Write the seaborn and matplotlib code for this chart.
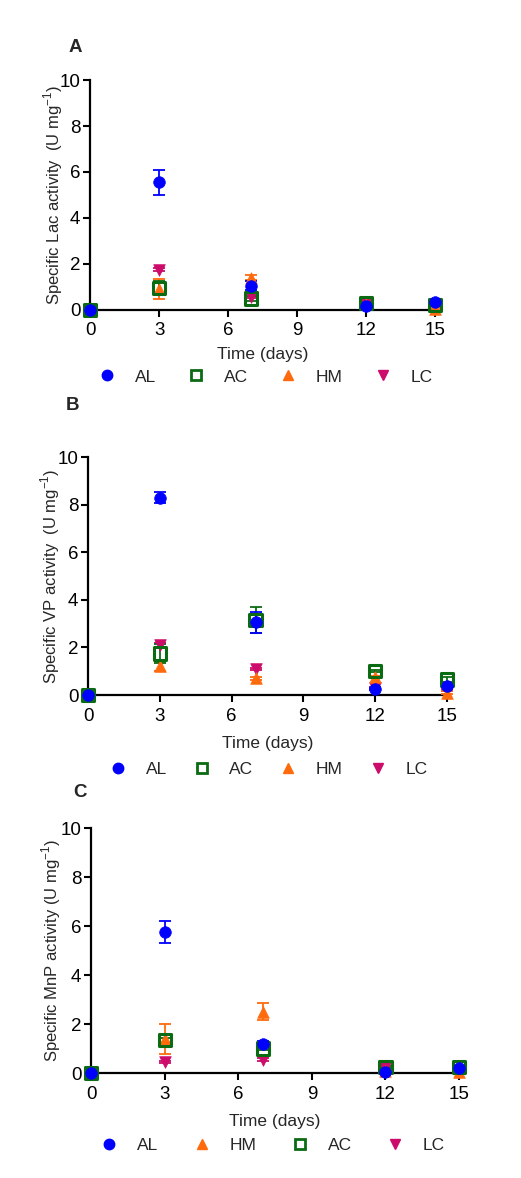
import matplotlib
matplotlib.use("Agg")
import matplotlib.pyplot as plt
import seaborn as sns
import pandas as pd
import numpy as np
from matplotlib.lines import Line2D

days = [0, 3, 7, 12, 15]

# Panel A - laccase
lac_al = [0.0, 5.55, 1.05, 0.15, 0.35]
lac_al_err = [0.0, 0.55, 0.2, 0.05, 0.05]
lac_ac = [0.0, 0.95, 0.5, 0.3, 0.2]
lac_ac_err = [0.0, 0.3, 0.1, 0.05, 0.05]
lac_hm = [0.0, 0.9, 1.4, 0.25, 0.05]
lac_hm_err = [0.0, 0.42, 0.1, 0.05, 0.05]
lac_lc = [0.0, 1.75, 0.55, 0.3, 0.2]
lac_lc_err = [0.0, 0.05, 0.05, 0.05, 0.05]

# Panel B - versatile peroxidase
vp_al = [0.0, 8.3, 3.05, 0.25, 0.4]
vp_al_err = [0.0, 0.25, 0.45, 0.05, 0.05]
vp_ac = [0.0, 1.75, 3.15, 1.0, 0.65]
vp_ac_err = [0.0, 0.4, 0.55, 0.05, 0.1]
vp_hm = [0.0, 1.2, 0.7, 0.75, 0.1]
vp_hm_err = [0.0, 0.2, 0.05, 0.05, 0.05]
vp_lc = [0.0, 2.1, 1.1, 0.3, 0.2]
vp_lc_err = [0.0, 0.1, 0.05, 0.05, 0.05]

# Panel C - manganese peroxidase
mnp_al = [0.0, 5.75, 1.2, 0.05, 0.2]
mnp_al_err = [0.0, 0.45, 0.1, 0.05, 0.05]
mnp_hm = [0.0, 1.4, 2.5, 0.1, 0.05]
mnp_hm_err = [0.0, 0.6, 0.35, 0.05, 0.05]
mnp_ac = [0.0, 1.35, 1.0, 0.25, 0.25]
mnp_ac_err = [0.0, 0.1, 0.05, 0.05, 0.05]
mnp_lc = [0.0, 0.45, 0.55, 0.2, 0.1]
mnp_lc_err = [0.0, 0.05, 0.05, 0.05, 0.05]

colors = {"AL": "#0000ff", "AC": "#0b6b12", "HM": "#ff6a0d", "LC": "#cc0b6b"}
markers = {"AL": "o", "AC": "s", "HM": "^", "LC": "v"}

sns.set_style("ticks")
plt.rcParams["font.family"] = ["Liberation Sans", "DejaVu Sans"]
plt.rcParams["mathtext.fontset"] = "custom"
plt.rcParams["mathtext.rm"] = "Liberation Sans"

fig = plt.figure(figsize=(5.21, 11.78), dpi=100)

panels = [
    ("A", "Specific Lac activity  (U mg$^{-1}$)",
     {"AL": (lac_al, lac_al_err), "AC": (lac_ac, lac_ac_err),
      "HM": (lac_hm, lac_hm_err), "LC": (lac_lc, lac_lc_err)},
     ["AL", "AC", "HM", "LC"],
     [0.173, 0.737, 0.662, 0.195], (0.51, 0.680), (0.144, 0.960), 5.5,
     -0.072, 1.8),
    ("B", "Specific VP activity  (U mg$^{-1}$)",
     {"AL": (vp_al, vp_al_err), "AC": (vp_ac, vp_ac_err),
      "HM": (vp_hm, vp_hm_err), "LC": (vp_lc, vp_lc_err)},
     ["AL", "AC", "HM", "LC"],
     [0.169, 0.410, 0.689, 0.202], (0.515, 0.347), (0.140, 0.656), 8.0,
     -0.072, 1.5),
    ("C", "Specific MnP activity (U mg$^{-1}$)",
     {"AL": (mnp_al, mnp_al_err), "HM": (mnp_hm, mnp_hm_err),
      "AC": (mnp_ac, mnp_ac_err), "LC": (mnp_lc, mnp_lc_err)},
     ["AL", "HM", "AC", "LC"],
     [0.175, 0.089, 0.706, 0.208], (0.524, 0.028), (0.153, 0.327), 8.5,
     -0.076, 2.0),
]

for (letter, ylabel, series, order, rect, leg_pos, let_pos, xpad,
     ylab_x, colsp) in panels:
    ax = fig.add_axes(rect)
    for name in ["LC", "HM", "AC", "AL"]:
        vals, errs = series[name]
        df = pd.DataFrame({"day": days, "value": vals, "err": errs})
        ax.errorbar(df["day"], df["value"], yerr=df["err"], fmt="none",
                    ecolor=colors[name], elinewidth=1.3, capsize=4,
                    capthick=1.3, clip_on=False, zorder=3)
        if name == "AC":
            sns.scatterplot(data=df, x="day", y="value", ax=ax, marker="s",
                            s=80, color=colors[name], facecolor="none",
                            edgecolor=colors[name], linewidth=2.2,
                            clip_on=False, zorder=4)
        else:
            sns.scatterplot(data=df, x="day", y="value", ax=ax,
                            marker=markers[name], s=70, color=colors[name],
                            edgecolor=colors[name], linewidth=0.5,
                            clip_on=False, zorder=5 if name == "AL" else 4)
    ax.set_xlim(0, 15)
    ax.set_ylim(0, 10)
    ax.set_xticks([0, 3, 6, 9, 12, 15])
    ax.set_yticks([0, 2, 4, 6, 8, 10])
    sns.despine(ax=ax)
    for sp in ["left", "bottom"]:
        ax.spines[sp].set_linewidth(1.6)
        ax.spines[sp].set_color("black")
    ax.tick_params(axis="both", length=5, width=1.5, labelsize=13.5,
                   colors="black")
    ax.tick_params(axis="x", pad=4)
    ax.tick_params(axis="y", pad=2)
    ax.set_xlabel("Time (days)", fontsize=12.5, labelpad=xpad)
    ax.set_ylabel(ylabel, fontsize=12)
    ax.yaxis.set_label_coords(ylab_x, 0.5)
    handles = []
    for name in order:
        if name == "AC":
            h = Line2D([], [], linestyle="none", marker="s", markersize=7,
                       markerfacecolor="none", markeredgecolor=colors[name],
                       markeredgewidth=2)
        else:
            h = Line2D([], [], linestyle="none", marker=markers[name],
                       markersize=7.5, color=colors[name])
        handles.append(h)
    fig.legend(handles, order, loc="center", bbox_to_anchor=leg_pos, ncol=4,
               frameon=False, fontsize=12.5, handlelength=1.0,
               handletextpad=1.1, columnspacing=colsp)
    fig.text(let_pos[0], let_pos[1], letter, fontsize=13.5,
             fontweight="bold", ha="center", va="center")

fig.savefig("out.png", dpi=100, facecolor="white")
